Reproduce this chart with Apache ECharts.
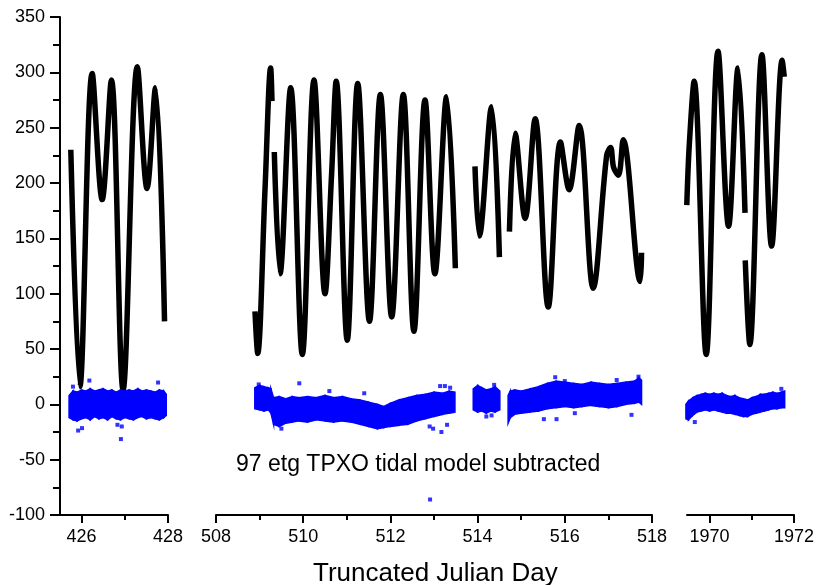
<!DOCTYPE html>
<html>
<head>
<meta charset="utf-8">
<script src="https://cdn.jsdelivr.net/npm/echarts@6/dist/echarts.min.js"></script>
<style>html,body{margin:0;padding:0;background:#fff}#c{width:817px;height:585px}</style>
</head>
<body>
<div id="c"></div>
<script>
// ---- axis ticks ----
const yMin = -100, yMax = 350, yStep = 50;
const seg1Labels = [426, 428], seg1Minor = [427];
const seg2Labels = [508, 510, 512, 514, 516, 518], seg2Minor = [509, 511, 513, 515, 517];
const seg3Labels = [1970, 1972], seg3Minor = [1971];
const seg1Range = [425.5, 428], seg2Range = [508, 518], seg3Range = [1969.465, 1972];

// ---- black: observed tide (null = data gap) ----
const tide1X = [425.75, 425.96, 426.245, 426.476, 426.69, 426.96, 427.29, 427.515, 427.71, 427.92];
const tide1Y = [230, 16, 299, 185, 293, 13, 305, 195, 286, 75];

const tide2X = [508.894, 508.956, 509.124, 509.254, 509.284, 509.31, 509.337, 509.468, 509.713, 509.98, 510.248, 510.5, 510.65, 510.757,
  511.01, 511.25, 511.52, 511.77, 512.03, 512.296, 512.54, 512.794, 513.02, 513.29, 513.49, 513.7,
  513.94, 514.04, 514.32, 514.5, 514.6, 514.73, 514.86, 515.09, 515.32, 515.62, 515.9, 516.1, 516.33, 516.65,
  516.96, 517.05, 517.12, 517.23, 517.34, 517.73, 517.76];
const tide2Y = [84, 46, 194, 304, 274, null, 228, 118, 286, 45, 293, 100, 207, 292,
  58, 290, 75, 280, 79, 280, 66, 275, 118, 278, 123, null,
  215, 152, 269, 133, null, 156, 245, 168, 258, 88, 237, 194, 252, 105,
  225, 232, 214, 207, 239, 111, 137];

const tide3X = [1969.46, 1969.52, 1969.635, 1969.92, 1970.2, 1970.45, 1970.675, 1970.84, 1970.842, 1970.845, 1970.953, 1971.24, 1971.47, 1971.72, 1971.77];
const tide3Y = [180, 235, 292, 45, 319, 161, 304, 173, null, 130, 54, 316, 143, 311, 296];

// ---- blue: residual after tidal model (band lower / upper edges) ----
const res1X = [425.71, 425.8, 425.9, 426.0, 426.1, 426.2, 426.3, 426.4, 426.5, 426.6, 426.7, 426.8, 426.9, 427.0, 427.1, 427.2, 427.3, 427.4, 427.5, 427.6, 427.7, 427.8, 427.9, 427.96];
const res1Hi = [8, 12, 11, 13, 12, 14, 12, 13, 14, 12, 13, 11, 13, 12, 13, 12, 14, 12, 13, 12, 11, 13, 12, 9];
const res1Lo = [-12, -14, -15, -13, -12, -14, -11, -13, -12, -14, -11, -13, -14, -12, -13, -14, -12, -11, -13, -12, -13, -14, -12, -10];

const res2aX = [508.89, 509.0, 509.1, 509.2, 509.26, 509.32, 509.45, 509.6, 509.75, 509.9, 510.1, 510.3, 510.5, 510.7, 510.9, 511.1, 511.3, 511.5, 511.7, 511.85, 512.0, 512.2, 512.4, 512.6, 512.8, 513.0, 513.2, 513.35, 513.48];
const res2aHi = [15, 17, 16, 15, 14, 6, 7, 5, 7, 6, 7, 6, 8, 6, 7, 5, 4, 2, 0, -2, 1, 4, 6, 8, 9, 11, 10, 12, 11];
const res2aLo = [-4, -5, -6, -5, -8, -18, -20, -17, -16, -15, -16, -14, -15, -16, -15, -16, -18, -20, -22, -21, -20, -19, -18, -15, -13, -11, -9, -8, -7];

const res2bX = [513.9, 514.0, 514.1, 514.2, 514.3, 514.4, 514.51];
const res2bHi = [14, 17, 15, 13, 14, 16, 12];
const res2bLo = [-5, -7, -6, -8, -6, -7, -5];

const res2cX = [514.70, 514.75, 514.85, 515.0, 515.2, 515.4, 515.6, 515.8, 516.0, 516.2, 516.4, 516.6, 516.8, 517.0, 517.2, 517.4, 517.6, 517.7, 517.76];
const res2cHi = [8, 12, 13, 12, 14, 16, 19, 21, 20, 19, 18, 20, 19, 18, 19, 20, 21, 24, 22];
const res2cLo = [-17, -12, -9, -8, -7, -6, -4, -3, -2, -3, -2, -1, -2, -3, -2, 0, 1, 2, 0];

const res3X = [1969.44, 1969.5, 1969.6, 1969.7, 1969.8, 1969.9, 1970.0, 1970.1, 1970.2, 1970.3, 1970.4, 1970.5, 1970.6, 1970.7, 1970.8, 1970.9, 1971.0, 1971.1, 1971.2, 1971.3, 1971.4, 1971.5, 1971.6, 1971.7, 1971.78];
const res3Hi = [0, 3, 6, 8, 9, 10, 9, 10, 9, 10, 8, 7, 8, 6, 5, 4, 6, 7, 9, 9, 10, 11, 10, 11, 12];
const res3Lo = [-13, -14, -10, -7, -6, -5, -6, -5, -6, -7, -8, -8, -9, -10, -11, -11, -9, -8, -7, -6, -5, -4, -4, -3, -3];

// ---- blue outliers ----
const out1X = [426.18, 427.77, 425.92, 426.01, 426.91, 426.83, 426.93, 425.8];
const out1Y = [21.5, 19.7, -23.7, -21.5, -31.4, -18.5, -20, 16];
const out2X = [509.91, 508.98, 513.14, 513.25, 513.37, 512.91, 512.9, 513.17, 513.3, 512.98, 515.78, 516.0, 514.38, 514.2, 514.32, 517.69, 516.23, 517.19, 515.81, 515.52, 517.53, 510.6, 511.4, 509.5];
const out2Y = [19, 18, 16.5, 16.5, 15, -86, -20, -25, -18.5, -22, 24.5, 21, 17.6, -11, -10, 25, -8, 22, -13.4, -13.4, -9.5, 12, 10, -22];
const out3X = [1969.65, 1971.7];
const out3Y = [-16, 14];

// ---- texts ----
const xTitle = 'Truncated Julian Day';
const note = '97 etg TPXO tidal model subtracted';

const FONT = 'Liberation Sans, Arial, sans-serif';
const zip = (xs, ys) => xs.map((x, i) => (ys[i] === null ? [x, null] : [x, ys[i]]));
const zip3 = (xs, lo, hi) => xs.map((x, i) => [x, lo[i], hi[i]]);

const grids = [
  { left: 60, top: 17, width: 108, height: 498 },
  { left: 216, top: 17, width: 436, height: 498 },
  { left: 687, top: 17, width: 109, height: 498 }
];
const ranges = [seg1Range, seg2Range, seg3Range];
const majors = [seg1Labels, seg2Labels, seg3Labels];
const minors = [seg1Minor, seg2Minor, seg3Minor];

const xAxes = [], yAxes = [];
for (let g = 0; g < 3; g++) {
  xAxes.push({
    type: 'value', gridIndex: g, position: 'bottom', min: ranges[g][0], max: ranges[g][1],
    axisLine: { show: true, onZero: false, lineStyle: { color: '#000', width: 2 } },
    axisTick: { show: true, customValues: majors[g], length: 8, lineStyle: { color: '#000', width: 2 } },
    axisLabel: { show: true, customValues: majors[g], color: '#000', fontSize: 18, fontFamily: FONT, margin: 13,
      formatter: v => String(v) },
    splitLine: { show: false }
  });
  xAxes.push({
    type: 'value', gridIndex: g, position: 'bottom', min: ranges[g][0], max: ranges[g][1],
    axisLine: { show: false, onZero: false },
    axisTick: { show: true, customValues: minors[g], length: 5, lineStyle: { color: '#000', width: 2 } },
    axisLabel: { show: false },
    splitLine: { show: false }
  });
  yAxes.push({
    type: 'value', gridIndex: g, min: yMin, max: yMax, interval: yStep,
    show: g === 0,
    axisLine: { show: true, lineStyle: { color: '#000', width: 2 } },
    axisTick: { show: true, length: 10, lineStyle: { color: '#000', width: 2 } },
    minorTick: { show: true, splitNumber: 2, length: 7, lineStyle: { color: '#000', width: 2 } },
    axisLabel: { color: '#000', fontSize: 18, fontFamily: FONT, margin: 15, formatter: v => String(v) },
    splitLine: { show: false }, minorSplitLine: { show: false }
  });
}

function tideSeries(g, xs, ys) {
  return {
    type: 'line', xAxisIndex: g * 2, yAxisIndex: g, data: zip(xs, ys),
    symbol: 'none', smooth: 0.35, connectNulls: false, silent: true,
    lineStyle: { color: '#000', width: 5.5 }, z: 2
  };
}
function bandSeries(g, xs, lo, hi) {
  return {
    type: 'custom', xAxisIndex: g * 2, yAxisIndex: g, data: zip3(xs, lo, hi), silent: true, z: 3,
    encode: { x: 0, y: [1, 2] },
    renderItem: function (params, api) {
      const i = params.dataIndexInside;
      if (i >= params.dataInsideLength - 1) return null;
      const x0 = api.value(0, i), l0 = api.value(1, i), h0 = api.value(2, i);
      const x1 = api.value(0, i + 1), l1 = api.value(1, i + 1), h1 = api.value(2, i + 1);
      const pts = [api.coord([x0, l0]), api.coord([x1, l1]), api.coord([x1, h1]), api.coord([x0, h0])];
      return { type: 'polygon', shape: { points: pts }, style: { fill: '#0000ff', stroke: '#0000ff', lineWidth: 1.5 } };
    }
  };
}
function outlierSeries(g, xs, ys) {
  return {
    type: 'scatter', xAxisIndex: g * 2, yAxisIndex: g, data: zip(xs, ys), silent: true,
    symbol: 'rect', symbolSize: 4, itemStyle: { color: '#0000ff' }, z: 4
  };
}

const option = {
  animation: false,
  backgroundColor: '#fff',
  grid: grids,
  xAxis: xAxes,
  yAxis: yAxes,
  series: [
    tideSeries(0, tide1X, tide1Y),
    tideSeries(1, tide2X, tide2Y),
    tideSeries(2, tide3X, tide3Y),
    bandSeries(0, res1X, res1Lo, res1Hi),
    bandSeries(1, res2aX, res2aLo, res2aHi),
    bandSeries(1, res2bX, res2bLo, res2bHi),
    bandSeries(1, res2cX, res2cLo, res2cHi),
    bandSeries(2, res3X, res3Lo, res3Hi),
    outlierSeries(0, out1X, out1Y),
    outlierSeries(1, out2X, out2Y),
    outlierSeries(2, out3X, out3Y)
  ],
  graphic: [
    { type: 'text', left: 236, top: 453, style: { text: note, fill: '#000', font: '23px ' + FONT } },
    { type: 'text', left: 313, top: 561, style: { text: xTitle, fill: '#000', font: '26px ' + FONT } }
  ]
};
const chart = echarts.init(document.getElementById('c'), null, { renderer: 'canvas' });
chart.setOption(option);
</script>
</body>
</html>
